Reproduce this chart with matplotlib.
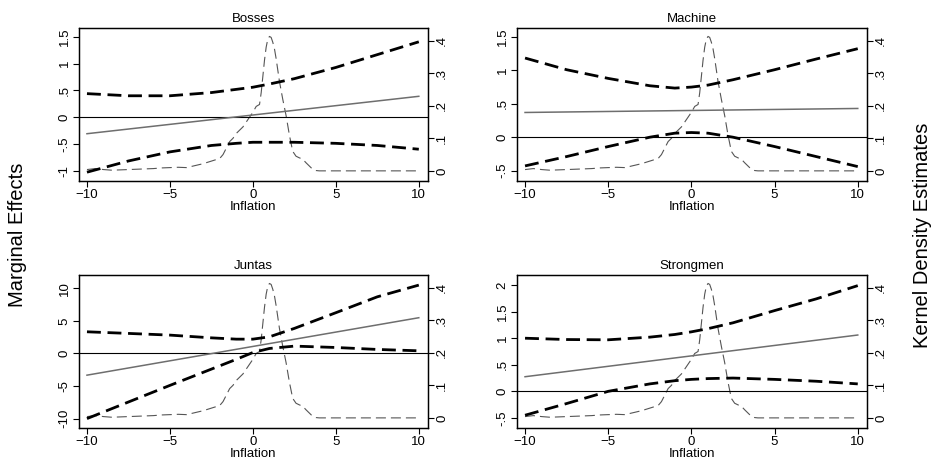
import matplotlib
matplotlib.use("Agg")
import matplotlib.pyplot as plt

plt.rcParams['font.family'] = ['Liberation Sans', 'DejaVu Sans']

# kernel density of inflation (same in every panel, right axis)
dens_x = [-10, -9.5, -9, -8.5, -8, -7.5, -7, -6.5, -6, -5.5, -5, -4.5, -4, -3.5, -3,
          -2.5, -2, -1.8, -1.6, -1.4, -1.2, -1.0, -0.8, -0.6, -0.4, -0.2, 0, 0.2, 0.4,
          0.5, 0.6, 0.7, 0.8, 0.9, 1.0, 1.1, 1.2, 1.3, 1.4, 1.6, 1.8, 2.0, 2.2, 2.4,
          2.6, 2.8, 3.0, 3.2, 3.4, 3.6, 3.8, 4.0, 5, 6, 7, 8, 9, 10]
dens_y = [0.004, 0.007, 0.004, 0.002, 0.003, 0.004, 0.005, 0.006, 0.007, 0.009, 0.010,
          0.011, 0.010, 0.016, 0.022, 0.030, 0.038, 0.050, 0.070, 0.090, 0.100, 0.115,
          0.125, 0.135, 0.150, 0.165, 0.180, 0.198, 0.204, 0.240, 0.290, 0.340, 0.380,
          0.405, 0.413, 0.410, 0.395, 0.375, 0.345, 0.275, 0.220, 0.170, 0.110, 0.060,
          0.045, 0.040, 0.036, 0.025, 0.015, 0.005, 0.001, 0, 0, 0, 0, 0, 0, 0]

ci_x = [-10, -7.5, -5, -2.5, -1, 0, 1, 2.5, 5, 7.5, 10]
me_x = [-10, 10]

# Bosses
bosses_hi = [0.44, 0.40, 0.40, 0.46, 0.52, 0.56, 0.62, 0.72, 0.93, 1.17, 1.41]
bosses_lo = [-1.03, -0.82, -0.65, -0.53, -0.49, -0.47, -0.47, -0.47, -0.49, -0.53, -0.60]
bosses_me = [-0.31, 0.39]

# Machine
machine_hi = [1.185, 1.01, 0.88, 0.77, 0.735, 0.75, 0.78, 0.86, 1.01, 1.17, 1.325]
machine_lo = [-0.43, -0.29, -0.14, 0.0, 0.06, 0.07, 0.06, 0.0, -0.14, -0.29, -0.44]
machine_me = [0.37, 0.43]

# Juntas
juntas_hi = [3.33, 3.08, 2.82, 2.40, 2.20, 2.20, 2.56, 3.85, 6.26, 8.70, 10.5]
juntas_lo = [-10.0, -7.45, -4.9, -2.4, -0.9, 0.15, 0.77, 1.13, 0.92, 0.62, 0.41]
juntas_me = [-3.33, 5.49]

# Strongmen
strong_hi = [1.0, 0.975, 0.97, 1.02, 1.07, 1.12, 1.18, 1.29, 1.52, 1.74, 1.99]
strong_lo = [-0.45, -0.23, 0.0, 0.14, 0.2, 0.225, 0.24, 0.25, 0.225, 0.19, 0.14]
strong_me = [0.275, 1.06]

panels = [
    ("Bosses", bosses_hi, bosses_lo, bosses_me, (-1.194, 1.669),
     [-1, -0.5, 0, 0.5, 1, 1.5], ["-1", "-.5", "0", ".5", "1", "1.5"],
     [0.0845, 0.615, 0.373, 0.3255]),
    ("Machine", machine_hi, machine_lo, machine_me, (-0.655, 1.635),
     [-0.5, 0, 0.5, 1, 1.5], ["-.5", "0", ".5", "1", "1.5"],
     [0.553, 0.615, 0.374, 0.3255]),
    ("Juntas", juntas_hi, juntas_lo, juntas_me, (-11.44, 12.05),
     [-10, -5, 0, 5, 10], ["-10", "-5", "0", "5", "10"],
     [0.0845, 0.0894, 0.373, 0.3255]),
    ("Strongmen", strong_hi, strong_lo, strong_me, (-0.69, 2.19),
     [-0.5, 0, 0.5, 1, 1.5, 2], ["-.5", "0", ".5", "1", "1.5", "2"],
     [0.553, 0.0894, 0.374, 0.3255]),
]

fig = plt.figure(figsize=(9.35, 4.70), dpi=100)

for title, hi, lo, me, ylim, yt, ytl, pos in panels:
    ax = fig.add_axes(pos)
    ax2 = ax.twinx()
    ax.set_zorder(ax2.get_zorder() + 1)
    ax.patch.set_visible(False)

    # density on the right axis, thin grey dashes
    ax2.plot(dens_x, dens_y, color='#555555', lw=0.8, dashes=(9, 4.5))
    ax2.set_ylim(-0.031, 0.439)
    ax2.set_yticks([0, 0.1, 0.2, 0.3, 0.4])
    ax2.set_yticklabels(["0", ".1", ".2", ".3", ".4"], rotation=90, va='center')

    ax.axhline(0, color='black', lw=0.8)
    ax.plot(me_x, me, color='#6e6e6e', lw=1.1)
    ax.plot(ci_x, hi, color='black', lw=2.0, dashes=(5, 2.4))
    ax.plot(ci_x, lo, color='black', lw=2.0, dashes=(5, 2.4))

    ax.set_xlim(-10.48, 10.54)
    ax.set_xticks([-10, -5, 0, 5, 10])
    ax.set_ylim(*ylim)
    ax.set_yticks(yt)
    ax.set_yticklabels(ytl, rotation=90, va='center')
    ax.set_title(title, fontsize=9.5, pad=4)
    ax.set_xlabel("Inflation", fontsize=9.5, labelpad=0)

    for a in (ax, ax2):
        a.tick_params(labelsize=9.5, length=4, width=0.8, pad=2)
        for s in a.spines.values():
            s.set_linewidth(0.9)

fig.text(0.019, 0.5, "Marginal Effects", rotation=90, ha='center', va='center', fontsize=14.5)
fig.text(0.987, 0.5, "Kernel Density Estimates", rotation=90, ha='center', va='center', fontsize=14.5)

fig.savefig("out.png", dpi=100)
